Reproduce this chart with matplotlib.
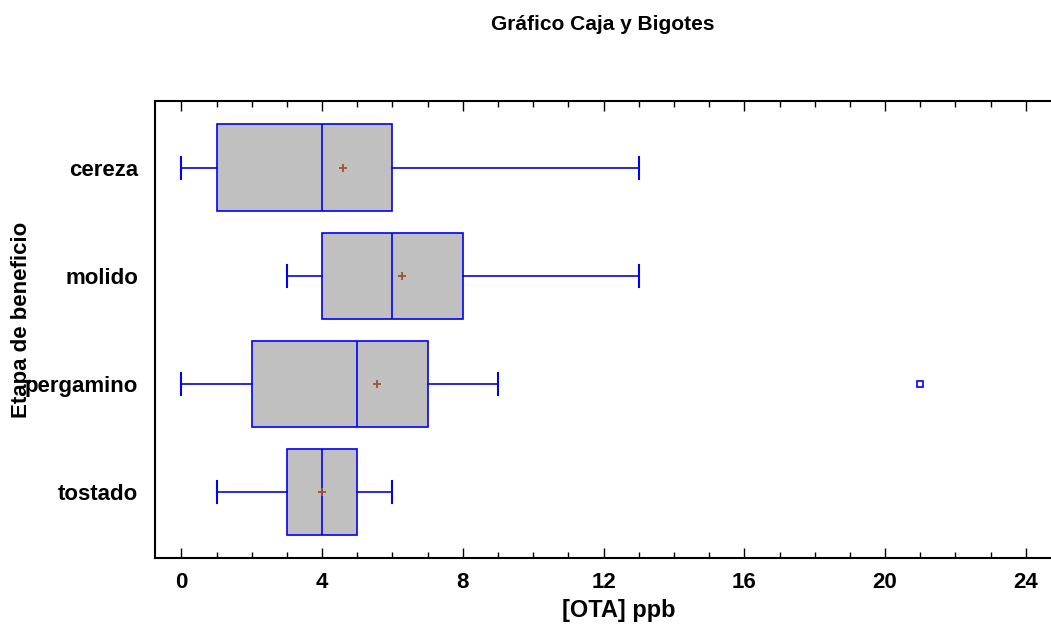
import matplotlib.pyplot as plt
from matplotlib.ticker import MultipleLocator

plt.rcParams['font.family'] = ['Liberation Sans', 'DejaVu Sans']
plt.rcParams['font.weight'] = 'bold'

# datos
etapas = ['cereza', 'molido', 'pergamino', 'tostado']
bigote_min = [0, 3, 0, 1]
q1 = [1, 4, 2, 3]
mediana = [4, 6, 5, 4]
q3 = [6, 8, 7, 5]
bigote_max = [13, 13, 9, 6]
media = [4.6, 6.28, 5.57, 4.0]
atipicos = [[], [], [21], []]

stats = []
for i in range(len(etapas)):
    stats.append(dict(label=etapas[i], whislo=bigote_min[i], q1=q1[i], med=mediana[i],
                      q3=q3[i], whishi=bigote_max[i], mean=media[i], fliers=atipicos[i]))

fig = plt.figure(figsize=(10.51, 6.27), dpi=100)
ax = fig.add_axes([155 / 1051, 69 / 627, 906 / 1051, 457.3 / 627])

azul = '#0000FF'
posiciones = [4, 3, 2, 1]
ax.bxp(stats, positions=posiciones, vert=False, widths=0.8, patch_artist=True,
       showmeans=True, capwidths=0.2,
       boxprops=dict(facecolor='#C0C0C0', edgecolor=azul, linewidth=1.2),
       medianprops=dict(color=azul, linewidth=1.2),
       whiskerprops=dict(color=azul, linewidth=1.2),
       capprops=dict(color=azul, linewidth=1.5),
       meanprops=dict(marker='+', markeredgecolor='#A0522D', markersize=6, markeredgewidth=1.3),
       flierprops=dict(marker='s', markerfacecolor='none', markeredgecolor=azul,
                       markersize=4, markeredgewidth=1.2))

ax.set_xlim(-0.75, 25)
ax.set_ylim(0.39, 4.62)
ax.set_yticks(posiciones)
ax.set_yticklabels(etapas, fontsize=16, fontweight='bold')
ax.xaxis.set_major_locator(MultipleLocator(4))
ax.xaxis.set_minor_locator(MultipleLocator(1))
ax.tick_params(axis='x', which='both', direction='in', top=True, bottom=True,
               labelsize=16, width=1, pad=10)
ax.tick_params(axis='x', which='major', length=7)
ax.tick_params(axis='x', which='minor', length=4)
ax.tick_params(axis='y', length=0, pad=12)
for lbl in ax.get_xticklabels():
    lbl.set_fontweight('bold')
ax.spines['right'].set_visible(False)
for s in ['left', 'top', 'bottom']:
    ax.spines[s].set_linewidth(1.5)

ax.set_xlabel('[OTA] ppb', fontsize=17, fontweight='bold')
ax.xaxis.set_label_coords((619 - 155) / 906, -52 / 457.3)
ax.xaxis.label.set_va('center')
fig.text(21.5 / 1051, 1 - 320 / 627, 'Etapa de beneficio', rotation=90, fontsize=16,
         fontweight='bold', ha='center', va='center')
fig.text(603 / 1051, 1 - 25 / 627, 'Gráfico Caja y Bigotes', fontsize=15,
         fontweight='bold', ha='center', va='center')

fig.savefig('out.png', dpi=100)
